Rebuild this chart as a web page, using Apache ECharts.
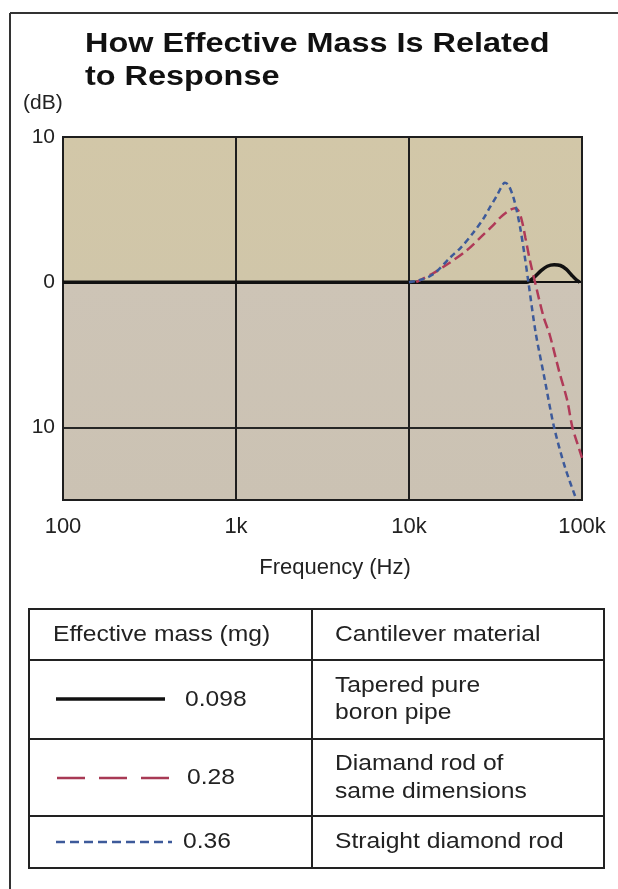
<!DOCTYPE html>
<html>
<head>
<meta charset="utf-8">
<script src="https://cdn.jsdelivr.net/npm/echarts@6/dist/echarts.min.js"></script>
<style>
  html, body { margin: 0; padding: 0; background: #ffffff; }
  #chart { width: 618px; height: 889px; }
</style>
</head>
<body>
<div id="chart"></div>
<script>
// ---- Data ----
const titleLines = ['How Effective Mass Is Related', 'to Response'];
const yUnit = '(dB)';
const xAxisName = 'Frequency (Hz)';

const xTickValues = [100, 1000, 10000, 100000];
const xTickLabels = ['100', '1k', '10k', '100k'];
const yTickValues = [10, 0, -10];
const yTickLabels = ['10', '0', '10'];

// Tapered pure boron pipe (0.098 mg)
const boronFreq = [100, 1000, 10000, 48000, 53000, 58000, 63000, 69000, 75000, 81000, 87000, 93000, 97000];
const boronDb   = [0, 0, 0, 0, 0.35, 0.8, 1.1, 1.2, 1.15, 0.9, 0.5, 0.15, 0];

// Diamond rod of same dimensions (0.28 mg)
const redFreq = [11000, 13700, 17000, 21600, 26000, 30500, 34000, 38000, 41000, 43000, 45000, 47000, 50000, 54000, 60000, 65000, 74000, 82000, 88000, 94000, 100000];
const redDb   = [0, 0.6, 1.3, 2.2, 3.1, 3.9, 4.5, 4.95, 5.1, 4.9, 4.2, 3.1, 1.5, -0.2, -2.4, -3.6, -6.2, -8.1, -10, -11.1, -12.1];

// Straight diamond rod (0.36 mg)
const blueFreq = [10000, 12000, 14000, 17300, 20000, 23500, 27000, 29500, 32000, 34000, 35800, 37500, 40000, 42000, 44000, 46500, 49000, 54000, 60000, 69000, 80000, 93000];
const blueDb   = [0, 0.2, 0.6, 1.7, 2.4, 3.4, 4.4, 5.2, 5.9, 6.5, 6.85, 6.7, 5.9, 4.9, 3.7, 1.9, 0, -3.5, -6.3, -10, -12.8, -15];

const legendMass = ['0.098', '0.28', '0.36'];
const legendMaterial = [['Tapered pure', 'boron pipe'], ['Diamand rod of', 'same dimensions'], ['Straight diamond rod']];
const tableHeaders = ['Effective mass (mg)', 'Cantilever material'];

// ---- Chart ----
const zip = (xs, ys) => xs.map((x, i) => [x, ys[i]]);
const FONT = '"Liberation Sans", Arial, sans-serif';
const INK = '#222';
const chart = echarts.init(document.getElementById('chart'), null, { renderer: 'canvas' });

function txt(text, x, y, size, opts) {
  opts = opts || {};
  return {
    type: 'text', x: x, y: y, scaleX: opts.scaleX || 1.12, silent: true, z: 10,
    style: {
      text: text, fill: opts.fill || INK,
      font: (opts.bold ? 'bold ' : '') + size + 'px ' + FONT,
      align: opts.align || 'left', verticalAlign: 'middle',
      textAlign: opts.align || 'left', textVerticalAlign: 'middle'
    }
  };
}
function seg(x1, y1, x2, y2, w, color, dash) {
  return {
    type: 'line', silent: true, z: 10,
    shape: { x1: x1, y1: y1, x2: x2, y2: y2 },
    style: { stroke: color || INK, lineWidth: w || 2, lineDash: dash || null }
  };
}

const graphics = [
  // outer frame (top + left)
  seg(10, 13, 618, 13, 2, '#333'),
  seg(10, 13, 10, 889, 2, '#333'),
  // title
  txt(titleLines[0], 85, 45, 27, { bold: true, scaleX: 1.2, fill: '#111' }),
  txt(titleLines[1], 85, 78, 27, { bold: true, scaleX: 1.2, fill: '#111' }),
  txt(yUnit, 23, 103, 20, { scaleX: 1.05 }),
  txt(xAxisName, 335, 568, 22, { align: 'center', scaleX: 1 }),
  // table
  {
    type: 'rect', silent: true, z: 9,
    shape: { x: 29, y: 609, width: 575, height: 259 },
    style: { fill: '#fff', stroke: INK, lineWidth: 2 }
  },
  seg(29, 660, 604, 660), seg(29, 739, 604, 739), seg(29, 816, 604, 816),
  seg(312, 609, 312, 868),
  txt(tableHeaders[0], 53, 635, 22),
  txt(tableHeaders[1], 335, 635, 22),
  // legend samples
  seg(56, 699, 165, 699, 3.5, '#111'),
  seg(57, 778, 170, 778, 2.5, '#a83a55', [28, 14]),
  seg(56, 842, 172, 842, 2.5, '#3d5a9a', [9, 5]),
  txt(legendMass[0], 185, 700, 22),
  txt(legendMass[1], 187, 778, 22),
  txt(legendMass[2], 183, 842, 22),
  txt(legendMaterial[0][0], 335, 686, 22),
  txt(legendMaterial[0][1], 335, 713, 22),
  txt(legendMaterial[1][0], 335, 764, 22),
  txt(legendMaterial[1][1], 335, 792, 22),
  txt(legendMaterial[2][0], 335, 842, 22)
];

const option = {
  animation: false,
  backgroundColor: '#ffffff',
  grid: {
    left: 63, top: 137, width: 519, height: 363,
    show: true, borderColor: '#1e1e1e', borderWidth: 2,
    backgroundColor: new echarts.graphic.LinearGradient(0, 0, 0, 1, [
      { offset: 0, color: '#d2c7a8' },
      { offset: 0.4, color: '#d0c6a9' },
      { offset: 0.4, color: '#cdc4b6' },
      { offset: 1, color: '#cbc2b3' }
    ])
  },
  xAxis: {
    type: 'log', logBase: 10, min: 100, max: 100000,
    axisLine: { show: false }, axisTick: { show: false },
    splitLine: { show: true, lineStyle: { color: '#1e1e1e', width: 2 } },
    axisLabel: {
      margin: 16, fontSize: 22, color: INK, fontFamily: FONT,
      formatter: v => xTickLabels[Math.round(Math.log10(v)) - 2] || ''
    }
  },
  yAxis: {
    type: 'value', min: -15, max: 10, interval: 5,
    axisLine: { show: false }, axisTick: { show: false },
    splitLine: {
      show: true,
      lineStyle: {
        width: 2,
        color: ['rgba(0,0,0,0)', '#262626', 'rgba(0,0,0,0)', '#111', 'rgba(0,0,0,0)', 'rgba(0,0,0,0)']
      }
    },
    axisLabel: {
      margin: 8, fontSize: 21, color: INK, fontFamily: FONT,
      formatter: v => {
        const i = yTickValues.indexOf(v);
        return i >= 0 ? yTickLabels[i] : '';
      }
    }
  },
  series: [
    {
      name: legendMass[0], type: 'line', data: zip(boronFreq, boronDb),
      symbol: 'none', smooth: 0.3, clip: true, z: 3,
      lineStyle: { color: '#111', width: 3.5 }
    },
    {
      name: legendMass[1], type: 'line', data: zip(redFreq, redDb),
      symbol: 'none', smooth: 0.3, clip: true, z: 4,
      lineStyle: { color: '#b03a58', width: 2.5, type: [10, 5] }
    },
    {
      name: legendMass[2], type: 'line', data: zip(blueFreq, blueDb),
      symbol: 'none', smooth: 0.3, clip: true, z: 5,
      lineStyle: { color: '#3d5a9a', width: 2.5, type: [6, 4] }
    }
  ],
  graphic: graphics
};
chart.setOption(option);
</script>
</body>
</html>
